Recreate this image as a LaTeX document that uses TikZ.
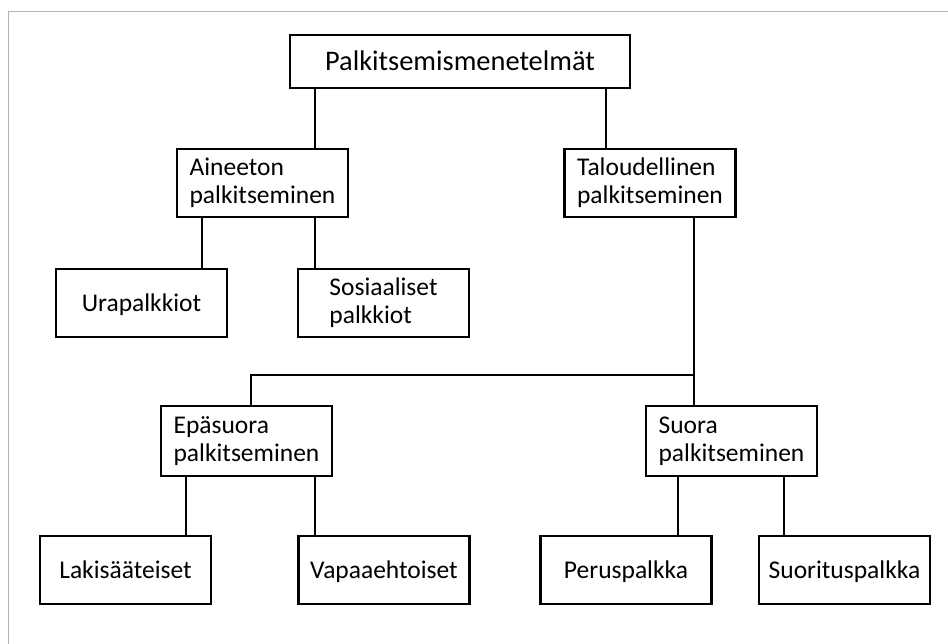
\documentclass[tikz,border=0pt]{standalone}
\usepackage{fontspec}
\setmainfont{Carlito}
\usetikzlibrary{positioning}

\begin{document}
\begin{tikzpicture}[x=1pt, y=-1pt,
    box/.style={draw, line width=2.4pt, minimum width=171pt, minimum height=68pt, inner sep=0pt, align=left, font=\fontsize{25.5}{28}\selectfont},
    leaf/.style={box, align=center, text height=16.5pt, text depth=0pt},
    link/.style={line width=2pt}]
  \useasboundingbox (0,0) rectangle (948,644);
  % Frame
  \draw[gray!60, line width=1pt] (8,644) -- (8,12) -- (948,12);
  % Top level
  \node[box, minimum width=340pt, minimum height=53pt, text height=18pt, text depth=0pt, font=\fontsize{28.4}{32}\selectfont] (top) at (460,61.5) {Palkitsemismenetelmät};
  % Second level
  \node[box] (aine) at (262.5,183) {Aineeton\\palkitseminen};
  \node[box] (talo) at (650,183) {Taloudellinen\\palkitseminen};
  % Aineeton children
  \node[leaf] (ura) at (141.5,303) {Urapalkkiot};
  \node[box] (sos) at (383.5,303) {Sosiaaliset\\palkkiot};
  % Taloudellinen children
  \node[box, minimum height=70pt] (epa) at (246.5,441) {Epäsuora\\palkitseminen};
  \node[box, minimum height=70pt] (suo) at (731.5,441) {Suora\\palkitseminen};
  % Bottom level
  \node[leaf] (laki) at (125.5,570) {Lakisääteiset};
  \node[leaf] (vapa) at (384,570) {Vapaaehtoiset};
  \node[leaf] (peru) at (626,570) {Peruspalkka};
  \node[leaf] (suor) at (844.5,570) {Suorituspalkka};
  % Connectors
  \draw[link] (top.south -| 315,0) -- (aine.north -| 315,0);
  \draw[link] (top.south -| 606,0) -- (talo.north -| 606,0);
  \draw[link] (aine.south -| 202,0) -- (ura.north -| 202,0);
  \draw[link] (aine.south -| 315,0) -- (sos.north -| 315,0);
  \coordinate (split) at (694,375);
  \draw[link] (talo.south -| split) -- (suo.north -| split);
  \draw[line width=1.6pt] (split) -- (split -| 251,0) -- (epa.north -| 251,0);
  \draw[link] (epa.south -| 186,0) -- (laki.north -| 186,0);
  \draw[link] (epa.south -| 315,0) -- (vapa.north -| 315,0);
  \draw[link] (suo.south -| 678,0) -- (peru.north -| 678,0);
  \draw[link] (suo.south -| 784,0) -- (suor.north -| 784,0);
\end{tikzpicture}
\end{document}
